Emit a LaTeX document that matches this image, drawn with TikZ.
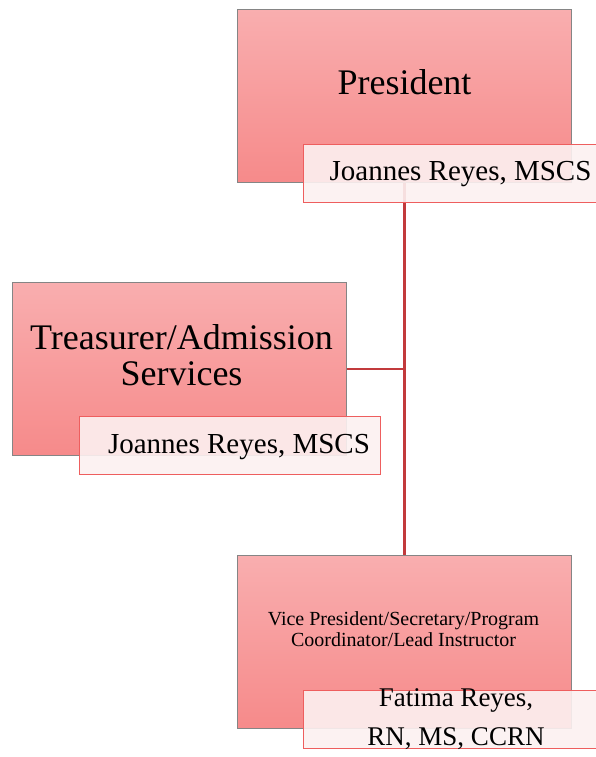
\documentclass[tikz,border=0pt]{standalone}
\usepackage{fontspec}
\setmainfont{Liberation Serif}
\definecolor{pktop}{HTML}{F9AEAF}
\definecolor{pkbot}{HTML}{F68A8A}
\definecolor{boxline}{HTML}{858585}
\definecolor{namefill}{HTML}{FCF1F1}
\definecolor{nameline}{HTML}{EE5E5E}
\definecolor{conn}{HTML}{C23A3C}
\tikzset{
  mainbox/.style={rectangle, inner sep=0pt, anchor=north west, minimum width=334pt, minimum height=173pt,
    top color=pktop, bottom color=pkbot, draw=boxline, line width=0.8pt},
  namebox/.style={rectangle, inner sep=0pt, anchor=north west, minimum width=301pt, minimum height=58pt,
    fill=namefill, fill opacity=0.9, draw=nameline, line width=1pt},
  txt/.style={inner sep=0pt, anchor=base, align=center, text=black},
  link/.style={draw=conn, line width=2.2pt},
}
\begin{document}
\begin{tikzpicture}[x=1pt,y=-1pt]
\useasboundingbox (0,0) rectangle (595,757);
% main boxes
\node[mainbox] (pres) at (237,9) {};
\node[mainbox] (tre) at (12,282) {};
\node[mainbox] (vp) at (237,555) {};
% connectors
\coordinate (joint) at (pres.south |- tre.east);
\draw[link] (pres.south) -- (vp.north);
\draw[link] (tre.east) -- (joint);
% name boxes
\node[namebox] (presN) at (303,144) {};
\node[namebox] (treN) at (79,416) {};
\node[namebox] (vpN) at (303,690) {};
% texts (base anchor = baseline of the last line)
\node[txt, font=\fontsize{36}{36}\selectfont] (presT) at (404.5,95) {President};
\node[txt, font=\fontsize{36}{36}\selectfont] (treT) at (181.5,385) {Treasurer/Admission\\Services};
\node[txt, font=\fontsize{20}{21}\selectfont] (vpT) at (403.5,646) {Vice President/Secretary/Program\\Coordinator/Lead Instructor};
\node[txt, font=\fontsize{29}{29}\selectfont] (presNT) at (460.5,180) {Joannes Reyes, MSCS};
\node[txt, font=\fontsize{29}{29}\selectfont] (treNT) at (239,453) {Joannes Reyes, MSCS};
\node[txt, font=\fontsize{27}{39}\selectfont] (vpNT) at (456,745) {Fatima Reyes,\\RN, MS, CCRN};
\end{tikzpicture}
\end{document}
